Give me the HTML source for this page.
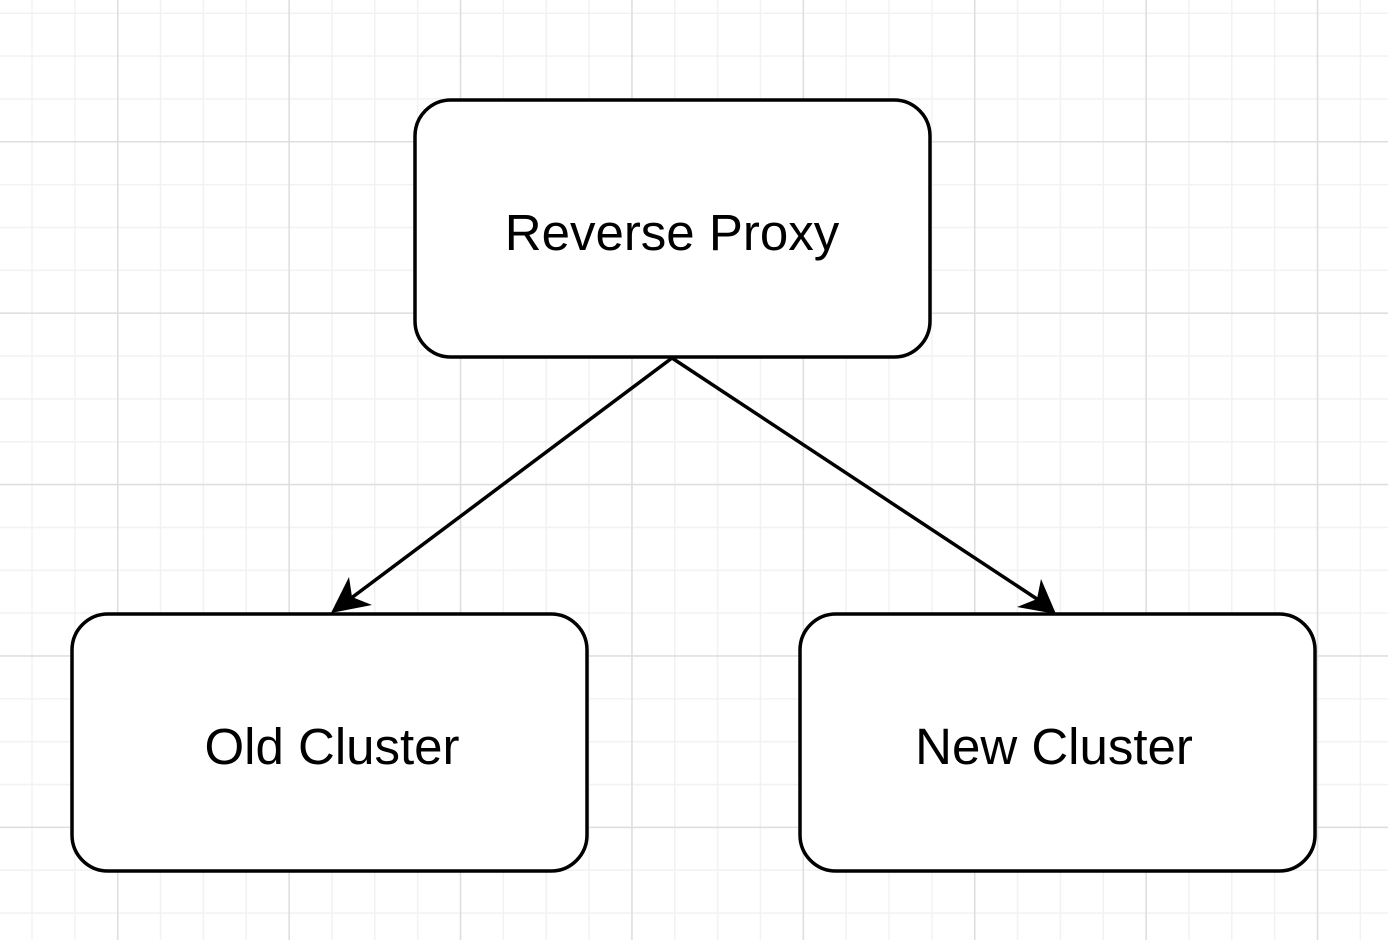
<!DOCTYPE html>
<html><head><style>
html,body{margin:0;padding:0;background:#fff;}
svg{display:block;}
text{font-family:"Liberation Sans",Arial,sans-serif;font-size:51px;fill:#000;}
</style></head><body>
<svg width="1388" height="940" viewBox="0 0 1388 940" xmlns="http://www.w3.org/2000/svg">
<defs>
<pattern id="minor" x="-11.6" y="12.5" width="42.85" height="42.85" patternUnits="userSpaceOnUse">
<path d="M0 0V42.85M0 0H42.85" stroke="#f2f2f2" stroke-width="3" fill="none"/>
</pattern>
<pattern id="major" x="117" y="141" width="171.4" height="171.4" patternUnits="userSpaceOnUse">
<path d="M0 0V171.4M0 0H171.4" stroke="#dedede" stroke-width="3" fill="none"/>
</pattern>
</defs>
<rect width="1388" height="940" fill="url(#minor)"/>
<rect width="1388" height="940" fill="url(#major)"/>
<g fill="#fff" stroke="#000" stroke-width="3.5">
<rect x="415" y="100" width="515" height="257" rx="36"/>
<rect x="72" y="614" width="515" height="257" rx="36"/>
<rect x="800" y="614" width="515" height="257" rx="36"/>
</g>
<g stroke="#000" stroke-width="3.5">
<line x1="672" y1="358" x2="350" y2="599"/>
<line x1="672" y1="358" x2="1040" y2="601"/>
</g>
<polygon points="331,613 349,577 352,597 372,605" fill="#000"/>
<polygon points="1056,614 1017,607 1037,599 1041,579" fill="#000"/>
<text x="672" y="250" text-anchor="middle">Reverse Proxy</text>
<text x="332" y="764" text-anchor="middle">Old Cluster</text>
<text x="1054" y="764" text-anchor="middle">New Cluster</text>
</svg>
</body></html>
